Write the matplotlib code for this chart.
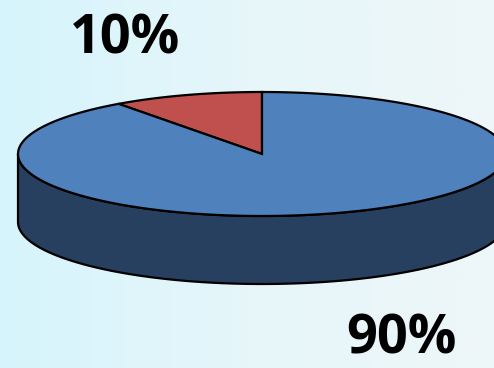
import numpy as np
import matplotlib.pyplot as plt
from matplotlib.patches import Polygon
from matplotlib.colors import LinearSegmentedColormap

labels = ['10%', '90%']
values = [10, 90]
top_colors = ['#c0504d', '#4f81bd']
side_colors = ['#7d2f2d', '#28405f']

# ellipse geometry in pixels
cx, cy = 262, 154
rx, ry = 244, 62
depth = 68
start = 90.0

W, H = 494, 368
fig = plt.figure(figsize=(W / 100, H / 100), dpi=100)
ax = fig.add_axes([0, 0, 1, 1])
ax.set_xlim(0, W)
ax.set_ylim(H, 0)
ax.axis('off')

# pale cyan backdrop, a little whiter toward the right
bg = LinearSegmentedColormap.from_list('bg', ['#d6f4fc', '#e6f6fa', '#eef6f8'])
grad = np.tile(np.linspace(0, 1, 256), (2, 1))
ax.imshow(grad, cmap=bg, extent=[0, W, H, 0], aspect='auto', zorder=0)


def pt(a, dy=0.0):
    a = np.radians(a)
    return cx + rx * np.cos(a), cy - ry * np.sin(a) + dy


total = sum(values)
a0 = start
for v, tc, sc in zip(values, top_colors, side_colors):
    a1 = a0 + 360.0 * v / total
    # front side wall: part of the arc lying in 180..360
    for lo, hi in [(180, 360), (540, 720)]:
        s, e = max(a0, lo), min(a1, hi)
        if e > s:
            t = np.linspace(s, e, 120)
            xs, ys = pt(t)
            xb, yb = pt(t[::-1], depth)
            side = np.column_stack([np.r_[xs, xb], np.r_[ys, yb]])
            ax.add_patch(Polygon(side, closed=True, facecolor=sc,
                                 edgecolor='black', lw=1.6, zorder=2))
    t = np.linspace(a0, a1, 200)
    xs, ys = pt(t)
    top = np.column_stack([np.r_[cx, xs], np.r_[cy, ys]])
    ax.add_patch(Polygon(top, closed=True, facecolor=tc,
                         edgecolor='black', lw=1.6, zorder=3))
    a0 = a1

font = dict(fontsize=39, fontweight='bold', color='black',
            family=['Open Sans', 'DejaVu Sans'])
ax.text(125, 54, labels[0], ha='center', va='baseline', zorder=4, **font)
ax.text(401, 367, labels[1], ha='center', va='bottom', zorder=4, **font)

fig.savefig('out.png', dpi=100)
